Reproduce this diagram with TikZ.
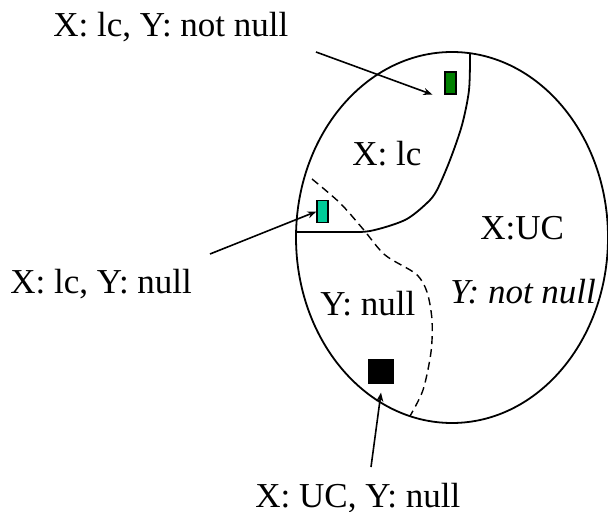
\documentclass[tikz,border=0pt]{standalone}
\usepackage{fontspec}
\setmainfont{Liberation Serif}
\usetikzlibrary{arrows.meta,positioning}

\begin{document}
\begin{tikzpicture}[
    x=0.5pt, y=-0.5pt,
    every node/.style={font=\fontsize{17.5}{21}\selectfont, inner sep=0pt},
    lbl/.style={anchor=base west},
    marker/.style={draw, line width=0.6pt, minimum width=5.5pt, minimum height=11pt},
    pointer/.style={-{Stealth[length=4.5pt,width=3.5pt]}, line width=0.8pt},
    border/.style={line width=0.9pt},
    split/.style={line width=0.7pt, dash pattern=on 4pt off 2.5pt}
]
\useasboundingbox (0,0) rectangle (608,512);
% domain and its regions
\draw[border] (452,237.5) ellipse [x radius=156, y radius=185.5];
\draw[border] plot[smooth] coordinates {(470,53) (469,90) (462,125) (450,160) (437,190) (427,203) (405,220) (370,231) (340,232) (296,232)};
\draw[split] plot[smooth] coordinates {(312,179) (340,203) (363,229) (385,255) (416,274) (427,292) (432,320) (431,352) (423,390) (410,416)};
% region labels
\node[lbl] (lcRegion) at (352,166) {X: lc};
\node[lbl] (ucRegion) at (480,240) {X:UC};
\node[lbl] (nullRegion) at (320,315) {Y: null};
\node[lbl] (notNullRegion) at (450,303) {\textit{Y: not null}};
% tuples
\node[marker, fill={rgb,255:red,0;green,128;blue,0}] (lcNotNullBox) at (450.5,83) {};
\node[marker, fill={rgb,255:red,0;green,204;blue,153}] (lcNullBox) at (322.5,211.5) {};
\node[marker, fill=black, minimum width=12pt, minimum height=11.5pt] (ucNullBox) at (381,371.5) {};
% outside labels
\node[lbl] (lcNotNull) at (53,37) {X: lc, Y: not null};
\node[lbl] (lcNull) at (10,293) {X: lc, Y: null};
\node[lbl] (ucNull) at (255,507) {X: UC, Y: null};
\coordinate (lcNotNullTail) at (316,52);
\coordinate (lcNullTail) at (210,254);
\coordinate (ucNullTail) at (371,467);
\draw[pointer] (lcNotNullTail) -- ([xshift=-6pt]lcNotNullBox.south west);
\draw[pointer] (lcNullTail) -- (lcNullBox.west);
\draw[pointer] (ucNullTail) -- ([yshift=-4.5pt]ucNullBox.south);
\end{tikzpicture}
\end{document}
